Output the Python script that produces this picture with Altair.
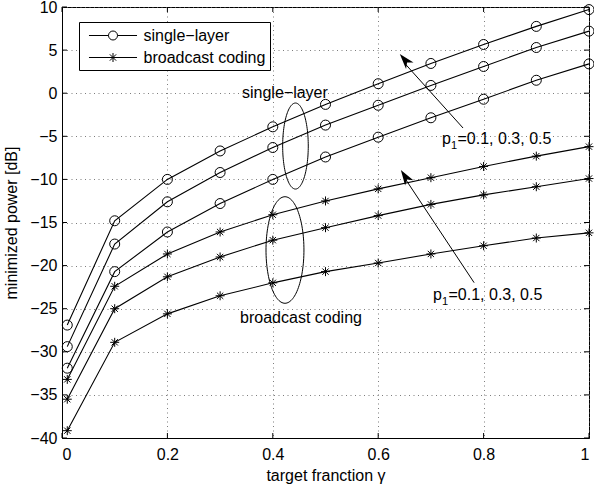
import altair as alt
import pandas as pd
import numpy as np

# ---------------- data ----------------
gamma = [0.01, 0.1, 0.2, 0.3, 0.4, 0.5, 0.6, 0.7, 0.8, 0.9, 1.0]

single_p01 = [-26.9, -14.8, -10.0, -6.7, -3.9, -1.3, 1.1, 3.45, 5.65, 7.75, 9.7]
single_p03 = [-29.4, -17.5, -12.6, -9.2, -6.3, -3.7, -1.4, 0.9, 3.1, 5.3, 7.2]
single_p05 = [-31.9, -20.7, -16.1, -12.8, -10.0, -7.4, -5.1, -2.85, -0.7, 1.5, 3.4]

bc_p01 = [-33.2, -22.4, -18.65, -16.1, -14.1, -12.5, -11.1, -9.8, -8.5, -7.3, -6.2]
bc_p03 = [-35.5, -25.0, -21.3, -19.0, -17.05, -15.6, -14.2, -12.9, -11.8, -10.85, -9.9]
bc_p05 = [-39.15, -28.9, -25.6, -23.5, -22.0, -20.7, -19.7, -18.65, -17.7, -16.8, -16.2]

legend_labels = ["single\u2212layer", "broadcast coding"]
x_ticks = [0, 0.2, 0.4, 0.6, 0.8, 1]
y_ticks = [-40, -35, -30, -25, -20, -15, -10, -5, 0, 5, 10]

# ---------------- build tables ----------------
rows = []
for name, vals in [("s01", single_p01), ("s03", single_p03), ("s05", single_p05)]:
    for g, v in zip(gamma, vals):
        rows.append({"kind": "single", "series": name, "gamma": g, "power": v})
for name, vals in [("b01", bc_p01), ("b03", bc_p03), ("b05", bc_p05)]:
    for g, v in zip(gamma, vals):
        rows.append({"kind": "broadcast", "series": name, "gamma": g, "power": v})
df = pd.DataFrame(rows)

W, H = 527, 431
FONT = "Liberation Sans"
FS = 16

xs = alt.Scale(domain=[0, 1], nice=False, zero=False)
ys = alt.Scale(domain=[-40, 10], nice=False, zero=False)
xaxis = alt.Axis(values=x_ticks, format="~g", title="target franction \u03b3",
                 grid=True, ticks=False, labelPadding=8, titlePadding=5)
yaxis = alt.Axis(values=y_ticks, format="d", title="minimized power [dB]",
                 grid=True, ticks=False, labelPadding=5, titlePadding=10)


def X(f):
    return alt.X(f, type="quantitative", scale=xs, axis=xaxis)


def Y(f):
    return alt.Y(f, type="quantitative", scale=ys, axis=yaxis)


STAR = "M-1,0L1,0M0,-1L0,1M-0.7,-0.7L0.7,0.7M-0.7,0.7L0.7,-0.7"
LEG_CIRCLE = "M-2.67,0L-0.5,0M0.5,0A0.5,0.5,0,1,1,-0.5,0A0.5,0.5,0,1,1,0.5,0M0.5,0L2.67,0"
LEG_STAR = ("M-2.67,0L2.67,0M0,-0.5L0,0.5M-0.35,-0.35L0.35,0.35M-0.35,0.35L0.35,-0.35")
ARROW = "M0,0L0.7,2.2L0,1.6L-0.7,2.2Z"

base = alt.Chart(df)

lines = base.mark_line(color="black", strokeWidth=1.1).encode(
    x=X("gamma"), y=Y("power"), detail="series:N")

circles = base.transform_filter(alt.datum.kind == "single").mark_point(
    shape="circle", filled=False, size=100, color="black", strokeWidth=1, opacity=1
).encode(x=X("gamma"), y=Y("power"))

stars = base.transform_filter(alt.datum.kind == "broadcast").mark_point(
    shape=STAR, filled=False, size=81, color="black", strokeWidth=1, opacity=1
).encode(x=X("gamma"), y=Y("power"))

# inside ticks (MATLAB box style)
xt = pd.DataFrame({"v": x_ticks})
yt = pd.DataFrame({"v": y_ticks})
tick_b = alt.Chart(xt).mark_rule(color="black", strokeWidth=1).encode(
    x=X("v"), y=alt.value(H), y2=alt.value(H - 5))
tick_t = alt.Chart(xt).mark_rule(color="black", strokeWidth=1).encode(
    x=X("v"), y=alt.value(0), y2=alt.value(5))
tick_l = alt.Chart(yt).mark_rule(color="black", strokeWidth=1).encode(
    y=Y("v"), x=alt.value(0), x2=alt.value(5))
tick_r = alt.Chart(yt).mark_rule(color="black", strokeWidth=1).encode(
    y=Y("v"), x=alt.value(W - 5), x2=alt.value(W))

# ellipses (annotation)
t = np.linspace(0, 2 * np.pi, 121)
ell_rows = []
for name, cx, cy, rx, ry in [("e1", 0.443, -6.13, 0.0243, 4.99),
                             ("e2", 0.4231, -18.19, 0.036, 6.18)]:
    for i, tt in enumerate(t):
        ell_rows.append({"e": name, "i": i, "ex": cx + rx * np.cos(tt), "ey": cy + ry * np.sin(tt)})
ell = alt.Chart(pd.DataFrame(ell_rows)).mark_line(color="black", strokeWidth=1).encode(
    x=X("ex"), y=Y("ey"), detail="e:N", order="i:Q")

# arrows (annotation)
arr = pd.DataFrame({
    "x1": [0.761, 0.782], "y1": [-4.04, -21.98],
    "x2": [0.652, 0.651], "y2": [3.35, -9.9],
    "hx": [0.641, 0.643], "hy": [4.55, -8.91],
    "ang": [319.6, 327.1],
})
arr_lines = alt.Chart(arr).mark_rule(color="black", strokeWidth=1).encode(
    x=X("x1"), y=Y("y1"), x2="x2", y2="y2")
arr_heads = alt.Chart(arr).mark_point(shape=ARROW, filled=True, color="black", size=196,
                                      opacity=1, strokeWidth=0.5).encode(
    x=X("hx"), y=Y("hy"), angle=alt.Angle("ang:Q", scale=None))

# text annotations
txt = pd.DataFrame({"tx": [0.423, 0.4535], "ty": [0.0, -26.08],
                    "label": ["single\u2212layer", "broadcast coding"]})
texts = alt.Chart(txt).mark_text(font=FONT, fontSize=FS, color="black",
                                 align="center", baseline="middle").encode(
    x=X("tx"), y=Y("ty"), text="label:N")

plab = pd.DataFrame({"px": [0.7211, 0.704], "py": [-5.893, -23.99]})
p_main = alt.Chart(plab).mark_text(font=FONT, fontSize=FS, color="black", align="left",
                                   baseline="alphabetic", text="p").encode(x=X("px"), y=Y("py"))
p_sub = alt.Chart(plab).mark_text(font=FONT, fontSize=11, color="black", align="left",
                                  baseline="alphabetic", text="1", dx=9, dy=5).encode(x=X("px"), y=Y("py"))
p_rest = alt.Chart(plab).mark_text(font=FONT, fontSize=FS, color="black", align="left",
                                   baseline="alphabetic", text="=0.1, 0.3, 0.5", dx=15.5).encode(x=X("px"), y=Y("py"))

# legend-only layer
leg_df = pd.DataFrame({"type": legend_labels, "lx": [0.5, 0.5], "ly": [0, 0]})
legend_layer = alt.Chart(leg_df).mark_point(filled=False, opacity=0, color="black").encode(
    x=X("lx"), y=Y("ly"),
    shape=alt.Shape("type:N",
                    scale=alt.Scale(domain=legend_labels, range=[LEG_CIRCLE, LEG_STAR]),
                    legend=alt.Legend(title=None, orient="none", legendX=17, legendY=15,
                                      strokeColor="black", fillColor="white", padding=4,
                                      symbolSize=324, symbolOffset=20.5, labelOffset=21,
                                      rowPadding=4, labelFont=FONT, labelFontSize=FS,
                                      labelColor="black", symbolStrokeColor="black",
                                      symbolStrokeWidth=1, symbolFillColor="transparent",
                                      symbolOpacity=1, cornerRadius=0)))

chart = alt.layer(
    lines, circles, stars, ell, arr_lines, arr_heads, texts, p_main, p_sub, p_rest,
    tick_b, tick_t, tick_l, tick_r, legend_layer
).properties(
    width=W, height=H,
    autosize=alt.AutoSizeParams(type="none"),
    padding={"left": 62, "top": 7, "right": 5, "bottom": 49},
    background="white",
).configure_view(
    stroke="black", strokeWidth=1
).configure_axis(
    labelFont=FONT, titleFont=FONT, labelFontSize=FS, titleFontSize=FS,
    labelColor="black", titleColor="black", titleFontWeight="normal",
    domainColor="black", gridColor="#666", gridDash=[1, 3.5], gridWidth=1,
    gridOpacity=0.85,
)

chart.save("out.html", embed_options={"renderer": "svg", "actions": False})
